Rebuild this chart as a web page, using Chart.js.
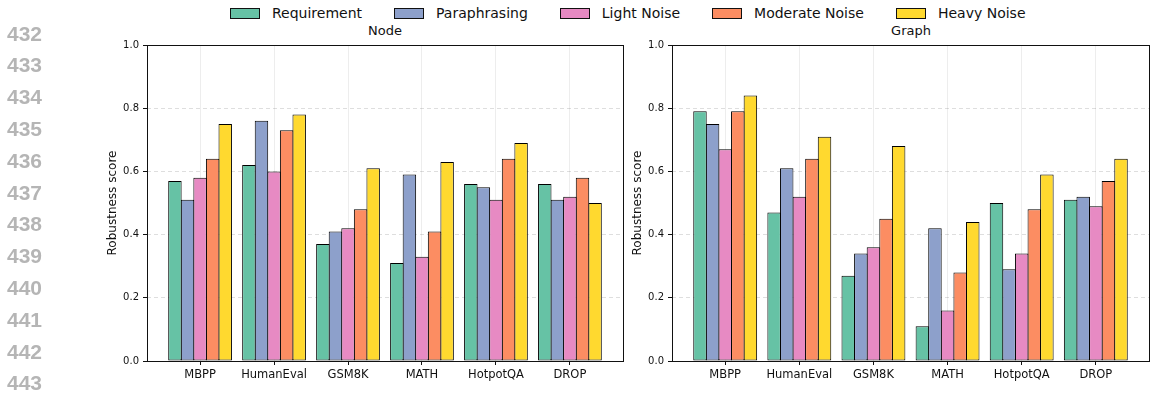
<!DOCTYPE html>
<html>
<head>
<meta charset="utf-8">
<script src="https://cdn.jsdelivr.net/npm/chart.js@4.4.1/dist/chart.umd.min.js"></script>
<style>
  body { margin: 0; width: 1150px; height: 395px; background: #fff; position: relative; overflow: hidden; font-family: "DejaVu Sans", sans-serif; }
  canvas { position: absolute; top: 0; }
  #nodeChart { left: 0; }
  #graphChart { left: 625px; }
  .lineno { position: absolute; left: 7px; font: bold 21px "Liberation Sans", Arial, sans-serif; color: #b5b5b5; line-height: 24px; }
  .title { position: absolute; top: 23px; font-size: 13px; color: #111; transform: translateX(-50%); white-space: nowrap; }
  #legend { position: absolute; left: 230px; top: 5px; display: flex; align-items: center; font-size: 14px; color: #111; white-space: nowrap; }
  .item { display: flex; align-items: center; margin-right: 32px; }
  .patch { width: 28px; height: 9px; border: 1px solid #111; margin-right: 12px; }
</style>
</head>
<body>
<div id="legend"></div>
<div class="title" style="left:385px">Node</div>
<div class="title" style="left:911px">Graph</div>
<canvas id="nodeChart" width="625" height="395"></canvas>
<canvas id="graphChart" width="525" height="395"></canvas>
<script>
const categories = ['MBPP', 'HumanEval', 'GSM8K', 'MATH', 'HotpotQA', 'DROP'];
const seriesNames = ['Requirement', 'Paraphrasing', 'Light Noise', 'Moderate Noise', 'Heavy Noise'];
const colors = ['#66c2a5', '#8da0cb', '#e78ac3', '#fc8d62', '#ffd92f'];
const yTicks = [0, 0.2, 0.4, 0.6, 0.8, 1.0];
const lineNumbers = [432, 433, 434, 435, 436, 437, 438, 439, 440, 441, 442, 443];

// Node panel, one array per series (order follows categories)
const nodeRequirement = [0.57, 0.62, 0.37, 0.31, 0.56, 0.56];
const nodeParaphrasing = [0.51, 0.76, 0.41, 0.59, 0.55, 0.51];
const nodeLight = [0.58, 0.60, 0.42, 0.33, 0.51, 0.52];
const nodeModerate = [0.64, 0.73, 0.48, 0.41, 0.64, 0.58];
const nodeHeavy = [0.75, 0.78, 0.61, 0.63, 0.69, 0.50];

// Graph panel
const graphRequirement = [0.79, 0.47, 0.27, 0.11, 0.50, 0.51];
const graphParaphrasing = [0.75, 0.61, 0.34, 0.42, 0.29, 0.52];
const graphLight = [0.67, 0.52, 0.36, 0.16, 0.34, 0.49];
const graphModerate = [0.79, 0.64, 0.45, 0.28, 0.48, 0.57];
const graphHeavy = [0.84, 0.71, 0.68, 0.44, 0.59, 0.64];

// line numbers down the left margin
lineNumbers.forEach((n, i) => {
  const d = document.createElement('div');
  d.className = 'lineno';
  d.textContent = n;
  d.style.top = (33.5 + i * 31.8 - 12) + 'px';
  document.body.appendChild(d);
});

// legend
const legend = document.getElementById('legend');
seriesNames.forEach((name, i) => {
  const item = document.createElement('div');
  item.className = 'item';
  const patch = document.createElement('span');
  patch.className = 'patch';
  patch.style.background = colors[i];
  const label = document.createElement('span');
  label.textContent = name;
  item.appendChild(patch);
  item.appendChild(label);
  legend.appendChild(item);
});

const align = p => Math.round(p - 0.5) + 0.5;

const framePlugin = {
  id: 'frame',
  afterDraw(chart) {
    const { ctx, chartArea: a } = chart;
    ctx.save();
    ctx.strokeStyle = '#111';
    ctx.lineWidth = 1;
    ctx.strokeRect(align(a.left), align(a.top), align(a.right) - align(a.left), align(a.bottom) - align(a.top));
    ctx.restore();
  }
};

function makeChart(id, seriesData, padLeft, padRight, titlePad) {
  const datasets = seriesData.map((vals, i) => ({
    label: seriesNames[i],
    data: vals.map((v, j) => ({ x: j, y: v })),
    backgroundColor: colors[i],
    borderColor: '#000',
    borderWidth: 1,
    borderSkipped: false,
    categoryPercentage: 0.85,
    barPercentage: 1.07
  }));
  return new Chart(document.getElementById(id), {
    type: 'bar',
    data: { datasets },
    plugins: [framePlugin],
    options: {
      responsive: false,
      animation: false,
      layout: { padding: { left: padLeft, right: padRight, top: 45, bottom: 0 } },
      plugins: { legend: { display: false }, tooltip: { enabled: false } },
      scales: {
        x: {
          type: 'linear',
          offset: false,
          min: -0.7175,
          max: 5.7175,
          afterBuildTicks: s => { s.ticks = categories.map((_, i) => ({ value: i })); },
          afterFit: s => { s.height = 34; },
          ticks: {
            callback: v => categories[v],
            font: { family: 'DejaVu Sans', size: 11.5 },
            color: '#111',
            padding: 3,
            maxRotation: 0,
            autoSkip: false
          },
          grid: { offset: false, color: 'rgba(0,0,0,0.07)', tickColor: '#111', tickLength: 4 },
          border: { display: false }
        },
        y: {
          min: 0,
          max: 1,
          afterBuildTicks: s => { s.ticks = yTicks.map(v => ({ value: v })); },
          afterFit: s => { s.width = 47; },
          ticks: {
            callback: v => v.toFixed(1),
            font: { family: 'DejaVu Sans', size: 10 },
            color: '#111',
            padding: 4
          },
          grid: { color: 'rgba(0,0,0,0.13)', tickColor: '#111', tickLength: 4 },
          border: { display: false, dash: [4, 3] },
          title: {
            display: true,
            text: 'Robustness score',
            font: { family: 'DejaVu Sans', size: 12 },
            color: '#111',
            padding: { top: titlePad, bottom: 0 }
          }
        }
      }
    }
  });
}

makeChart('nodeChart', [nodeRequirement, nodeParaphrasing, nodeLight, nodeModerate, nodeHeavy], 100, 2, 5.8);
makeChart('graphChart', [graphRequirement, graphParaphrasing, graphLight, graphModerate, graphHeavy], 0, 1, 5.8);
</script>
</body>
</html>
